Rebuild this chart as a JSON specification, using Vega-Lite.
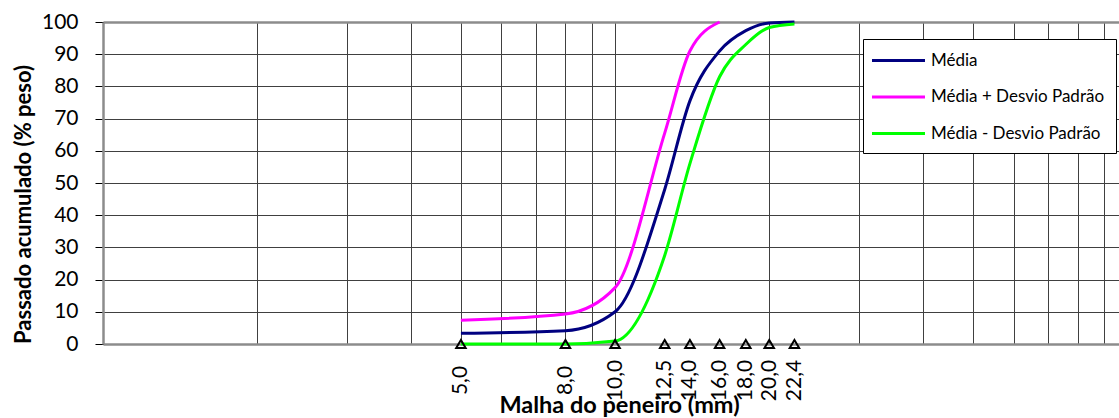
{
  "$schema": "https://vega.github.io/schema/vega-lite/v6.json",
  "autosize": {"type": "none"},
  "width": 1016,
  "height": 322,
  "padding": {"left": 103, "top": 22, "right": 0, "bottom": 74},
  "background": "white",
  "config": {"view": {"stroke": null}, "font": "Lato"},
  "datasets": {
    "curvas": [
      {"abertura": 5.0, "serie": "Média", "passado": 3.3},
      {"abertura": 8.0, "serie": "Média", "passado": 4.1},
      {"abertura": 10.0, "serie": "Média", "passado": 10},
      {"abertura": 12.5, "serie": "Média", "passado": 48},
      {"abertura": 14.0, "serie": "Média", "passado": 75.5},
      {"abertura": 16.0, "serie": "Média", "passado": 91},
      {"abertura": 18.0, "serie": "Média", "passado": 97.3},
      {"abertura": 20.0, "serie": "Média", "passado": 99.7},
      {"abertura": 22.4, "serie": "Média", "passado": 100},
      {"abertura": 5.0, "serie": "Média + Desvio Padrão", "passado": 7.4},
      {"abertura": 8.0, "serie": "Média + Desvio Padrão", "passado": 9.3},
      {"abertura": 10.0, "serie": "Média + Desvio Padrão", "passado": 17.5},
      {"abertura": 12.5, "serie": "Média + Desvio Padrão", "passado": 65.5},
      {"abertura": 14.0, "serie": "Média + Desvio Padrão", "passado": 91},
      {"abertura": 16.0, "serie": "Média + Desvio Padrão", "passado": 100},
      {"abertura": 5.0, "serie": "Média - Desvio Padrão", "passado": 0},
      {"abertura": 8.0, "serie": "Média - Desvio Padrão", "passado": 0},
      {"abertura": 10.0, "serie": "Média - Desvio Padrão", "passado": 0.9},
      {"abertura": 12.5, "serie": "Média - Desvio Padrão", "passado": 27.5},
      {"abertura": 14.0, "serie": "Média - Desvio Padrão", "passado": 56},
      {"abertura": 16.0, "serie": "Média - Desvio Padrão", "passado": 83},
      {"abertura": 18.0, "serie": "Média - Desvio Padrão", "passado": 93},
      {"abertura": 20.0, "serie": "Média - Desvio Padrão", "passado": 98.3},
      {"abertura": 22.4, "serie": "Média - Desvio Padrão", "passado": 99.4}
    ],
    "peneiros": [
      {"abertura": 5.0, "passado": 0},
      {"abertura": 8.0, "passado": 0},
      {"abertura": 10.0, "passado": 0},
      {"abertura": 12.5, "passado": 0},
      {"abertura": 14.0, "passado": 0},
      {"abertura": 16.0, "passado": 0},
      {"abertura": 18.0, "passado": 0},
      {"abertura": 20.0, "passado": 0},
      {"abertura": 22.4, "passado": 0}
    ]
  },
  "encoding": {
    "x": {
      "field": "abertura",
      "type": "quantitative",
      "scale": {"type": "log", "domain": [1, 96.4], "nice": false},
      "axis": {
        "values": [1, 2, 3, 4, 5, 6, 7, 8, 9, 10, 12.5, 14, 16, 18, 20, 22.4, 30, 40, 50, 60, 70, 80, 90],
        "labelExpr": "indexof([5, 8, 10, 12.5, 14, 16, 18, 20, 22.4], datum.value) >= 0 ? replace(format(datum.value, '.1f'), '.', ',') : ''",
        "grid": true,
        "gridColor": "#404040",
        "gridWidth": 1,
        "gridOpacity": {"condition": {"test": "indexof([12.5, 14, 16, 18, 22.4], datum.value) >= 0", "value": 0}, "value": 1},
        "ticks": false,
        "tickSize": 0,
        "domainColor": "#8c8c8c",
        "domainWidth": 2.5,
        "labelAngle": 270,
        "labelAlign": "center",
        "labelBaseline": "middle",
        "labelPadding": 36,
        "labelFontSize": 21,
        "labelColor": "black",
        "labelOverlap": false,
        "labelFlush": false,
        "title": "Malha do peneiro (mm)",
        "titleFontSize": 23.5,
        "titleFontWeight": "bold",
        "titleColor": "black",
        "titleBaseline": "alphabetic",
        "titleX": 516,
        "titleY": 68,
        "titleAnchor": "middle"
      }
    },
    "y": {
      "field": "passado",
      "type": "quantitative",
      "scale": {"domain": [0, 100], "nice": false},
      "axis": {
        "values": [0, 10, 20, 30, 40, 50, 60, 70, 80, 90, 100],
        "grid": true,
        "gridColor": {"condition": {"test": "datum.value == 100", "value": "#8c8c8c"}, "value": "#404040"},
        "gridWidth": {"condition": {"test": "datum.value == 100", "value": 2.5}, "value": 1},
        "tickSize": 8,
        "tickColor": "black",
        "domainColor": "#8c8c8c",
        "domainWidth": 2.5,
        "labelFontSize": 21,
        "labelColor": "black",
        "labelPadding": 17,
        "labelOverlap": false,
        "labelFlush": false,
        "title": "Passado acumulado (% peso)",
        "titleFontSize": 22,
        "titleFontWeight": "bold",
        "titleColor": "black",
        "titlePadding": 6,
        "titleY": 182
      }
    }
  },
  "layer": [
    {
      "data": {"name": "curvas"},
      "mark": {"type": "line", "interpolate": "monotone", "strokeWidth": 3},
      "encoding": {
        "color": {
          "field": "serie",
          "type": "nominal",
          "scale": {
            "domain": ["Média", "Média + Desvio Padrão", "Média - Desvio Padrão"],
            "range": ["#000080", "#FF00FF", "#00FF00"]
          },
          "legend": {
            "title": null,
            "orient": "none",
            "legendX": 760,
            "legendY": 17,
            "fillColor": "white",
            "strokeColor": "#000000",
            "padding": 11,
            "symbolType": "M-1.42,0H4.6",
            "symbolSize": 310,
            "symbolStrokeWidth": 3,
            "labelFontSize": 17,
            "labelColor": "black",
            "labelOffset": 36,
            "labelLimit": 400,
            "rowPadding": 17.5
          }
        }
      }
    },
    {
      "data": {"name": "peneiros"},
      "mark": {"type": "point", "shape": "triangle-up", "filled": false, "stroke": "black", "strokeWidth": 2, "size": 90, "opacity": 1},
      "encoding": {}
    }
  ]
}
